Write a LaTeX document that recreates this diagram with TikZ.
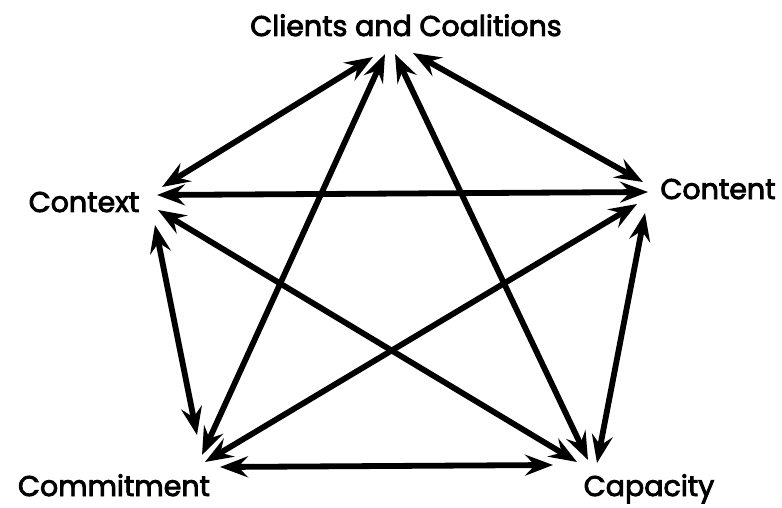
\documentclass[tikz,border=0pt]{standalone}
\usepackage{fontspec}
\newfontfamily\lblfont[FakeBold=3]{Poppins}
\usetikzlibrary{arrows.meta}
\begin{document}
\begin{tikzpicture}[x=1pt,y=1pt,
  lbl/.style={font=\lblfont\fontsize{28.5}{32}\selectfont, anchor=base, inner sep=0pt},
  link/.style={line width=5.8pt, {Stealth[length=28pt,width=21pt,inset=10pt]}-{Stealth[length=28pt,width=21pt,inset=10pt]}}]
\useasboundingbox (0,0) rectangle (782,507);
% labels
\node[lbl] (cc)  at (406,471) {Clients and Coalitions};
\node[lbl] (ctx) at (84,295)  {Context};
\node[lbl] (cnt) at (718,308) {Content};
\node[lbl] (com) at (114,11)  {Commitment};
\node[lbl] (cap) at (649,11)  {Capacity};
% arrow ends
\coordinate (cc-ctx) at (373,450);
\coordinate (cc-cnt) at (413,454);
\coordinate (cc-com) at (385,453);
\coordinate (cc-cap) at (395,453);
\coordinate (ctx-cc) at (162,320);
\coordinate (ctx-cnt) at (157,312);
\coordinate (ctx-cap) at (158,297);
\coordinate (ctx-com) at (155,282);
\coordinate (cnt-cc) at (643,325);
\coordinate (cnt-ctx) at (648,315);
\coordinate (cnt-com) at (637,303);
\coordinate (cnt-cap) at (645,294);
\coordinate (com-cc) at (202,52);
\coordinate (com-ctx) at (197,72);
\coordinate (com-cnt) at (205,45);
\coordinate (com-cap) at (220,40);
\coordinate (cap-cc) at (588,47);
\coordinate (cap-ctx) at (577,45);
\coordinate (cap-cnt) at (597,44);
\coordinate (cap-com) at (553,42);
% connectors
\draw[link] (cc-ctx) -- (ctx-cc);
\draw[link] (cc-cnt) -- (cnt-cc);
\draw[link] (cc-com) -- (com-cc);
\draw[link] (cc-cap) -- (cap-cc);
\draw[link] (ctx-cnt) -- (cnt-ctx);
\draw[link] (ctx-cap) -- (cap-ctx);
\draw[link] (ctx-com) -- (com-ctx);
\draw[link] (cnt-com) -- (com-cnt);
\draw[link] (cnt-cap) -- (cap-cnt);
\draw[link] (com-cap) -- (cap-com);
\end{tikzpicture}
\end{document}
